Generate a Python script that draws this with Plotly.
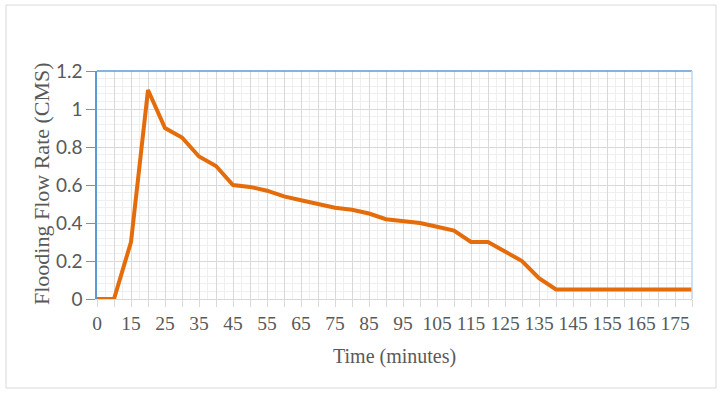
import plotly.graph_objects as go

# Data (categorical time axis, Excel-style)
time_categories = ["0", "10", "15", "20", "25", "30", "35", "40", "45", "50", "55", "60",
                   "65", "70", "75", "80", "85", "90", "95", "100", "105", "110", "115",
                   "120", "125", "130", "135", "140", "145", "150", "155", "160", "165",
                   "170", "175", "180"]
flow_rate = [0, 0, 0.3, 1.1, 0.9, 0.85, 0.75, 0.7, 0.6, 0.59, 0.57, 0.54,
             0.52, 0.5, 0.48, 0.47, 0.45, 0.42, 0.41, 0.4, 0.38, 0.36, 0.3,
             0.3, 0.25, 0.2, 0.11, 0.05, 0.05, 0.05, 0.05, 0.05, 0.05,
             0.05, 0.05, 0.05]
y_tick_values = [0, 0.2, 0.4, 0.6, 0.8, 1.0, 1.2]
y_tick_labels = ["0", "0.2", "0.4", "0.6", "0.8", "1", "1.2"]
x_title = "Time (minutes)"
y_title = "Flooding Flow Rate (CMS)"

x_index = list(range(len(time_categories)))
x_tick_text = [c if i % 2 == 0 else "" for i, c in enumerate(time_categories)]

GRID = "#d9d9d9"
MINOR = "#efefef"
BLUE = "#5b9bd5"
TXT = "#595959"

L, R, T, B = 97, 30, 71, 95
W, H = 722, 394
PW, PH = W - L - R, H - T - B

fig = go.Figure()
fig.add_trace(go.Scatter(
    x=x_index, y=flow_rate, mode="lines",
    line=dict(color="#e46c0a", width=4),
    hoverinfo="skip", showlegend=False,
))

fig.update_layout(
    width=W, height=H,
    margin=dict(l=L, r=R, t=T, b=B, autoexpand=False),
    paper_bgcolor="white", plot_bgcolor="white",
    showlegend=False,
)

fig.update_xaxes(
    range=[0, len(time_categories) - 1],
    tickmode="array", tickvals=x_index, ticktext=x_tick_text,
    tickangle=0, automargin=False,
    ticks="outside", ticklen=7, tickcolor=GRID, tickwidth=1,
    showgrid=True, gridcolor=GRID, gridwidth=1,
    minor=dict(dtick=0.5, tick0=0, showgrid=True, gridcolor=MINOR, gridwidth=1, ticks=""),
    showline=True, linecolor=GRID, linewidth=1,
    zeroline=False,
    tickfont=dict(family="Liberation Serif", size=19.5, color=TXT),
)

fig.update_yaxes(
    range=[0, 1.2],
    tickmode="array", tickvals=y_tick_values, ticktext=y_tick_labels,
    automargin=False,
    ticks="outside", ticklen=9, tickcolor=BLUE, tickwidth=1,
    showgrid=True, gridcolor=GRID, gridwidth=1,
    minor=dict(dtick=0.04, tick0=0, showgrid=True, gridcolor=MINOR, gridwidth=1, ticks=""),
    showline=True, linecolor=BLUE, linewidth=1.5,
    zeroline=False,
    tickfont=dict(family="Lato", size=19, color=TXT),
)

# Axis titles
fig.add_annotation(text=x_title, xref="paper", yref="paper",
                   x=(394 - L) / PW, y=(H - B - 356) / PH,
                   xanchor="center", yanchor="middle", showarrow=False,
                   font=dict(family="Liberation Serif", size=20, color=TXT))
fig.add_annotation(text=y_title, xref="paper", yref="paper",
                   x=(41 - L) / PW, y=(H - B - 184) / PH, textangle=-90,
                   xanchor="center", yanchor="middle", showarrow=False,
                   font=dict(family="Liberation Serif", size=22, color=TXT))

# Top border (blue) and right border (light blue) of plot area
fig.add_shape(type="line", xref="paper", yref="paper", x0=0, x1=1, y0=1, y1=1,
              line=dict(color=BLUE, width=1.5))
fig.add_shape(type="line", xref="paper", yref="paper", x0=1, x1=1, y0=0, y1=1,
              line=dict(color="#bdd7ee", width=1.5))
# Outer chart border
fig.add_shape(type="rect", xref="paper", yref="paper",
              x0=(6 - L) / PW, x1=(716 - L) / PW,
              y0=(H - B - 388) / PH, y1=(H - B - 5) / PH,
              line=dict(color=GRID, width=1), layer="below")

fig.write_html("out.html", config={"displayModeBar": False},
               post_script="document.body.style.margin='0';document.body.style.overflow='hidden';")
